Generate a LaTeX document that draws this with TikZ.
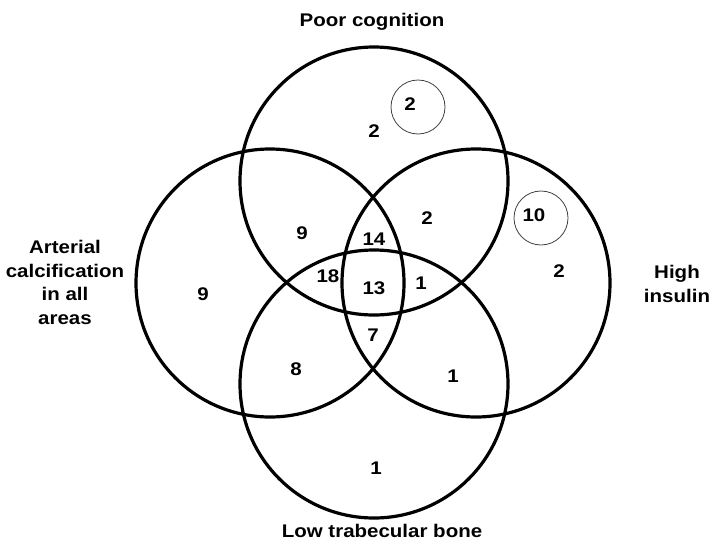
\documentclass[tikz,border=0pt]{standalone}
\usepackage{fontspec}
\newfontfamily\vennfont{Liberation Sans}[FakeStretch=1.12]

\begin{document}
\begin{tikzpicture}[y=1pt, x=1pt, yscale=-1, inner sep=0pt, outer sep=0pt]
\tikzset{set/.style={draw=black, line width=3.2pt},
  ring/.style={draw=black!75, line width=0.8pt},
  num/.style={font=\vennfont\bfseries\fontsize{18.3}{23.8}\selectfont},
  lab/.style={num, align=center}}
\useasboundingbox (0,0) rectangle (716,544);
% the four sets
\coordinate (cog) at (374,181);
\coordinate (art) at (270,283);
\coordinate (ins) at (476,283);
\coordinate (bone) at (374,384);
\draw[set] (cog) circle (134);
\draw[set] (art) circle (134);
\draw[set] (ins) circle (134);
\draw[set] (bone) circle (134);
% set names
\node[lab, anchor=base] (lcog) at (372,26) {Poor cognition};
\node[lab, anchor=north] (lart) at (65,240) {Arterial\\calcification\\in all\\areas};
\node[lab, anchor=north] (lins) at (677,265) {High\\insulin};
\node[lab, anchor=base] (lbone) at (382,537) {Low trabecular bone};
% circled counts
\draw[ring] (418,107) circle (27);
\draw[ring] (541,218) circle (27);
% counts
\node[num] (n1) at (410,104) {2};
\node[num] (n2) at (374,131) {2};
\node[num] (n3) at (534,215) {10};
\node[num] (n4) at (302,233) {9};
\node[num] (n5) at (374,239) {14};
\node[num] (n6) at (427,218) {2};
\node[num] (n7) at (328,276) {18};
\node[num] (n8) at (374,288) {13};
\node[num] (n9) at (421,283) {1};
\node[num] (n10) at (203,294) {9};
\node[num] (n11) at (559,271) {2};
\node[num] (n12) at (373,335) {7};
\node[num] (n13) at (296,369) {8};
\node[num] (n14) at (453,376) {1};
\node[num] (n15) at (376,468) {1};
\end{tikzpicture}
\end{document}
